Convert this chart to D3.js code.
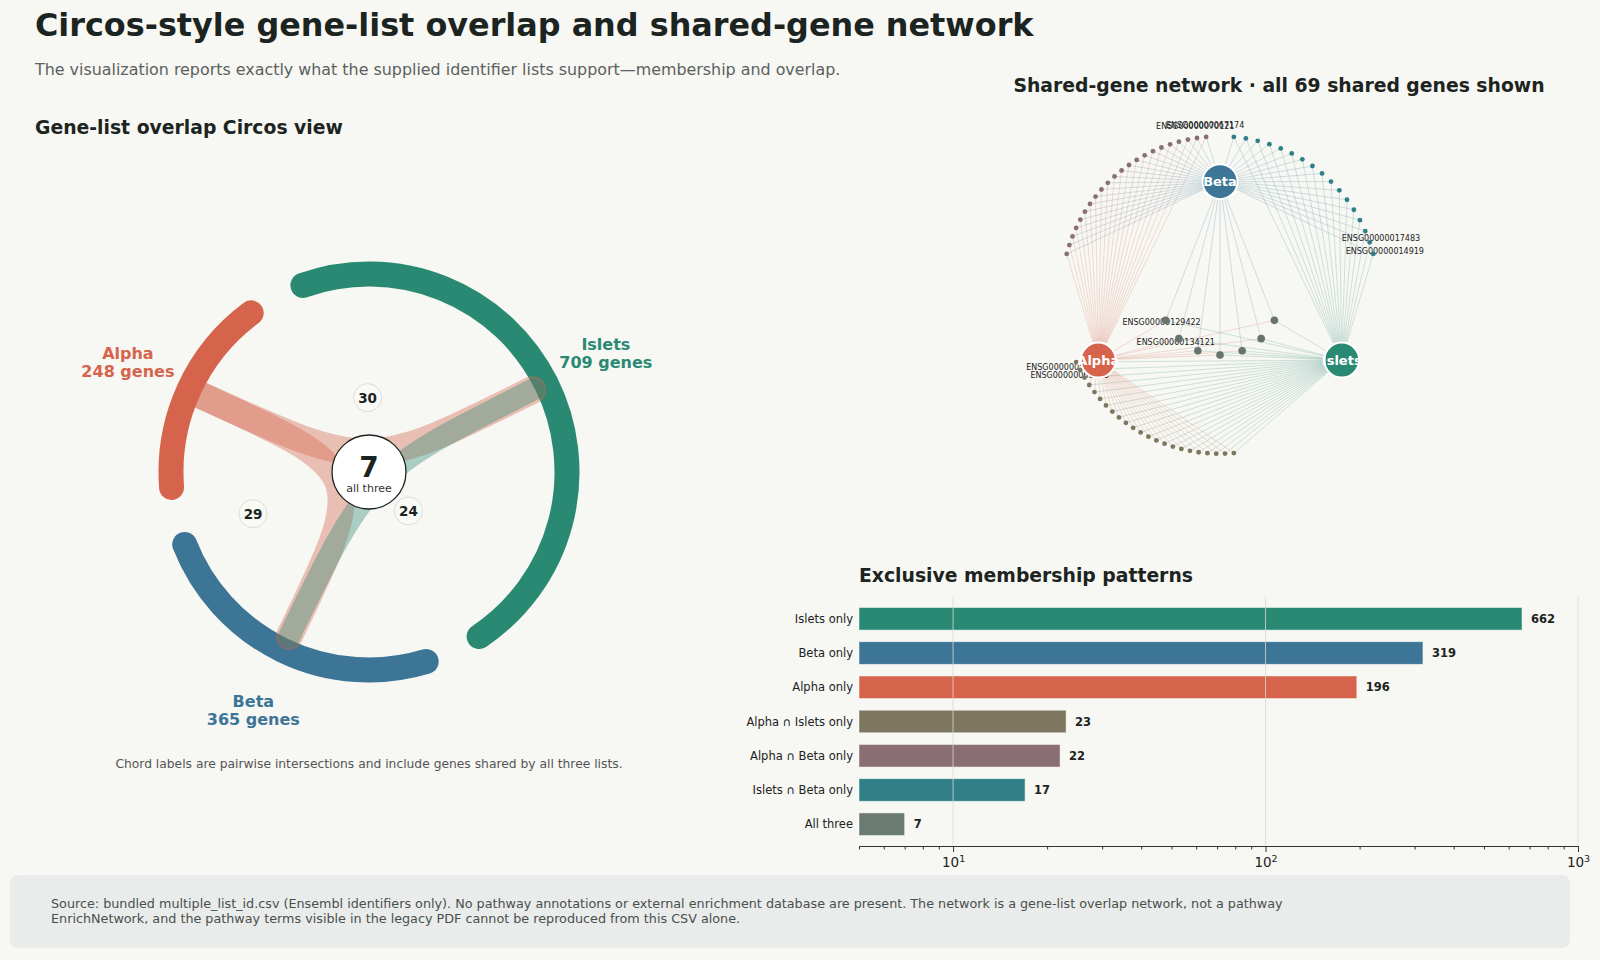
<!DOCTYPE html>
<html>
<head>
<meta charset="utf-8">
<script src="https://cdn.jsdelivr.net/npm/d3@7"></script>
<style>
  html, body { margin: 0; padding: 0; background: #f7f7f3; }
  svg { display: block; font-family: "DejaVu Sans", sans-serif; }
</style>
</head>
<body>
<svg id="chart" width="1600" height="960"></svg>
<script>
// ---- data ----
const listNames = ["Islets", "Beta", "Alpha"];
const listSizes = [709, 365, 248];
const listColors = ["#2a8973", "#3c7596", "#d6644d"];

// pairwise intersections (include the genes shared by all three)
const pairFrom = ["Alpha", "Alpha", "Islets"];
const pairTo = ["Islets", "Beta", "Beta"];
const pairCounts = [30, 29, 24];
const allThreeCount = 7;

// exclusive membership patterns
const patternLabels = [
  "Islets only",
  "Beta only",
  "Alpha only",
  "Alpha ∩ Islets only",
  "Alpha ∩ Beta only",
  "Islets ∩ Beta only",
  "All three",
];
const patternCounts = [662, 319, 196, 23, 22, 17, 7];
const patternColors = ["#2a8973", "#3c7596", "#d6644d", "#7e7760", "#8a6e74", "#318087", "#6b7a72"];

// shared genes drawn in the network
const geneGroups = ["Alpha ∩ Beta", "Islets ∩ Beta", "Alpha ∩ Islets", "All three"];
const geneGroupCounts = [22, 17, 23, 7];
const geneGroupMembers = [["Alpha", "Beta"], ["Islets", "Beta"], ["Alpha", "Islets"], ["Alpha", "Beta", "Islets"]];
const geneGroupColors = ["#8a6e74", "#2f7f88", "#7d765f", "#67736d"];
const labelledGenes = [
  ["ENSG00000067174", "ENSG00000070121"],
  ["ENSG00000014919", "ENSG00000017483"],
  ["ENSG00000051108", "ENSG00000060718"],
  ["ENSG00000129422", "ENSG00000134121"],
];

const colorOf = (name) => listColors[listNames.indexOf(name)];
const svg = d3.select("#chart");
const ink = "#1c2421";

svg.append("rect").attr("width", 1600).attr("height", 960).attr("fill", "#f7f7f3");

// ---- titles ----
svg.append("text").attr("x", 35).attr("y", 36)
  .attr("font-size", 31.85).attr("font-weight", "bold").attr("fill", ink)
  .text("Circos-style gene-list overlap and shared-gene network");
svg.append("text").attr("x", 35).attr("y", 75)
  .attr("font-size", 15.9).attr("fill", "#5b615e")
  .text("The visualization reports exactly what the supplied identifier lists support—membership and overlap.");

renderCircos(svg.append("g"));
renderNetwork(svg.append("g"));
renderBars(svg.append("g"));
renderFooter(svg.append("g"));

function renderCircos(g) {
  const cx = 369, cy = 472, r = 198, gap = 17, start = -19.5;
  const total = d3.sum(listSizes);
  const avail = 360 - gap * listSizes.length;
  const rad = (deg) => (deg * Math.PI) / 180;
  const polar = (rr, deg) => [cx + rr * Math.sin(rad(deg)), cy - rr * Math.cos(rad(deg))];

  g.append("text").attr("x", 35).attr("y", 134)
    .attr("font-size", 18.8).attr("font-weight", "bold").attr("fill", ink)
    .text("Gene-list overlap Circos view");

  let a = start;
  const arcs = listNames.map((name, i) => {
    const span = (listSizes[i] / total) * avail;
    const d = { name, size: listSizes[i], a0: a, a1: a + span, mid: a + span / 2, color: listColors[i] };
    a += span + gap;
    return d;
  });
  const midOf = (name) => arcs.find((d) => d.name === name).mid;

  // list arcs
  g.selectAll(".list-arc")
    .data(arcs)
    .join("path")
    .attr("class", "list-arc")
    .attr("d", (d) => {
      const p = d3.path();
      p.arc(cx, cy, r, rad(d.a0 - 90), rad(d.a1 - 90));
      return p.toString();
    })
    .attr("fill", "none")
    .attr("stroke", (d) => d.color)
    .attr("stroke-width", 25)
    .attr("stroke-linecap", "round");

  // chords, bent through the centre
  const chordData = pairCounts.map((c, i) => ({
    from: pairFrom[i], to: pairTo[i], count: c,
    p0: polar(183, midOf(pairFrom[i])),
    p1: polar(183, midOf(pairTo[i])),
  }));
  g.selectAll(".chord")
    .data(chordData)
    .join("path")
    .attr("class", "chord")
    .attr("d", (d) => `M${d.p0}C${cx},${cy} ${cx},${cy} ${d.p1}`)
    .attr("fill", "none")
    .attr("stroke", (d) => colorOf(d.from))
    .attr("stroke-opacity", 0.38)
    .attr("stroke-width", (d) => d.count * 0.92)
    .attr("stroke-linecap", "round");

  // chord count labels
  const lab = g.selectAll(".chord-label")
    .data(chordData)
    .join("g")
    .attr("class", "chord-label")
    .attr("transform", (d) => {
      const a0 = polar(r, midOf(d.from)), a1 = polar(r, midOf(d.to));
      const mx = cx + ((a0[0] + a1[0]) / 2 - cx) * 0.87;
      const my = cy + ((a0[1] + a1[1]) / 2 - cy) * 0.87;
      return `translate(${mx},${my})`;
    });
  lab.append("circle").attr("r", 14).attr("fill", "#f8f8f5").attr("fill-opacity", 0.92)
    .attr("stroke", "#dcdcd8").attr("stroke-width", 1);
  lab.append("text").attr("text-anchor", "middle").attr("dy", "0.36em")
    .attr("font-size", 13.5).attr("font-weight", "bold").attr("fill", ink)
    .text((d) => d.count);

  // centre
  g.append("circle").attr("cx", cx).attr("cy", cy).attr("r", 37)
    .attr("fill", "#ffffff").attr("stroke", ink).attr("stroke-width", 1.3);
  g.append("text").attr("x", cx).attr("y", cy + 5).attr("text-anchor", "middle")
    .attr("font-size", 28).attr("font-weight", "bold").attr("fill", ink)
    .text(allThreeCount);
  g.append("text").attr("x", cx).attr("y", cy + 20).attr("text-anchor", "middle")
    .attr("font-size", 11).attr("fill", "#333").text("all three");

  // list labels
  const lbl = g.selectAll(".list-label")
    .data(arcs)
    .join("text")
    .attr("class", "list-label")
    .attr("text-anchor", "middle")
    .attr("font-size", 16).attr("font-weight", "bold")
    .attr("fill", (d) => d.color);
  lbl.append("tspan")
    .attr("x", (d) => polar(265, d.mid)[0])
    .attr("y", (d) => polar(265, d.mid)[1] - 3)
    .text((d) => d.name);
  lbl.append("tspan")
    .attr("x", (d) => polar(265, d.mid)[0])
    .attr("y", (d) => polar(265, d.mid)[1] + 15)
    .text((d) => `${d.size} genes`);

  g.append("text").attr("x", cx).attr("y", 768).attr("text-anchor", "middle")
    .attr("font-size", 12.3).attr("fill", "#555")
    .text("Chord labels are pairwise intersections and include genes shared by all three lists.");
}

function renderNetwork(g) {
  const cx = 1220, cy = 295, R = 158.7;
  const x = d3.scaleLinear().domain([-1, 1]).range([cx - R, cx + R]);
  const y = d3.scaleLinear().domain([-1, 1]).range([cy - R, cy + R]);
  // layout: angular spans (degrees) and ring radius per group, hub positions
  const groupSpan = [[-95, -165], [-15, -85], [155, 85], [155, 25]];
  const groupRing = [1, 1, 1, 0.378];
  const hubPos = { Beta: [0, -0.714], Alpha: [-0.767, 0.41], Islets: [0.767, 0.41] };

  g.append("text").attr("x", 1279).attr("y", 92).attr("text-anchor", "middle")
    .attr("font-size", 18.8).attr("font-weight", "bold").attr("fill", ink)
    .text(`Shared-gene network · all ${d3.sum(geneGroupCounts)} shared genes shown`);

  const genes = [];
  geneGroups.forEach((grp, gi) => {
    const n = geneGroupCounts[gi];
    const [s0, s1] = groupSpan[gi];
    d3.range(n).forEach((i) => {
      const ang = ((s0 + ((s1 - s0) * i) / (n - 1)) * Math.PI) / 180;
      const rr = groupRing[gi];
      genes.push({
        group: gi, idx: i,
        px: rr * Math.cos(ang), py: rr * Math.sin(ang),
        lx: rr * 1.075 * Math.cos(ang), ly: rr * 1.075 * Math.sin(ang),
        label: i < 2 ? labelledGenes[gi][i] : null,
        members: geneGroupMembers[gi],
        color: geneGroupColors[gi],
      });
    });
  });

  const edges = genes.flatMap((d) => d.members.map((m) => ({ gene: d, hub: m })));
  g.append("g").selectAll("line")
    .data(edges)
    .join("line")
    .attr("x1", (d) => x(d.gene.px)).attr("y1", (d) => y(d.gene.py))
    .attr("x2", (d) => x(hubPos[d.hub][0])).attr("y2", (d) => y(hubPos[d.hub][1]))
    .attr("stroke", (d) => colorOf(d.hub))
    .attr("stroke-opacity", 0.3)
    .attr("stroke-width", 0.7);

  g.append("g").selectAll("text")
    .data(genes.filter((d) => d.label))
    .join("text")
    .attr("x", (d) => x(d.lx)).attr("y", (d) => y(d.ly))
    .attr("dy", "0.35em").attr("text-anchor", "middle")
    .attr("font-size", 8).attr("fill", "#222")
    .text((d) => d.label);

  g.append("g").selectAll("circle")
    .data(genes)
    .join("circle")
    .attr("cx", (d) => x(d.px)).attr("cy", (d) => y(d.py))
    .attr("r", (d) => (d.group === 3 ? 3.8 : 2.4))
    .attr("fill", (d) => d.color);

  const hubs = g.append("g").selectAll("g")
    .data(listNames)
    .join("g")
    .attr("transform", (d) => `translate(${x(hubPos[d][0])},${y(hubPos[d][1])})`);
  hubs.append("circle").attr("r", 17.5).attr("fill", (d) => colorOf(d))
    .attr("stroke", "#ffffff").attr("stroke-width", 2);
  hubs.append("text").attr("text-anchor", "middle").attr("dy", "0.36em")
    .attr("font-size", 13).attr("font-weight", "bold").attr("fill", "#ffffff")
    .text((d) => d);
}

function renderBars(g) {
  const x = d3.scaleLog().domain([5, 1000]).range([859, 1578]);
  const y = d3.scaleBand().domain(patternLabels).range([602, 841])
    .paddingInner(0.34).paddingOuter(0.16);
  const gridTop = 597, axisY = 846;

  g.append("text").attr("x", 859).attr("y", 582)
    .attr("font-size", 18.8).attr("font-weight", "bold").attr("fill", ink)
    .text("Exclusive membership patterns");

  const rows = patternLabels.map((label, i) => ({ label, count: patternCounts[i], color: patternColors[i] }));

  g.append("g").selectAll("rect")
    .data(rows)
    .join("rect")
    .attr("x", x(5)).attr("y", (d) => y(d.label))
    .attr("width", (d) => x(d.count) - x(5))
    .attr("height", y.bandwidth())
    .attr("fill", (d) => d.color)
    .attr("stroke", "#ffffff").attr("stroke-opacity", 0.6).attr("stroke-width", 0.8);

  // grid over bars
  g.append("g").selectAll("line")
    .data([10, 100, 1000])
    .join("line")
    .attr("x1", (d) => x(d)).attr("x2", (d) => x(d))
    .attr("y1", gridTop).attr("y2", axisY)
    .attr("stroke", "#d8d8d4").attr("stroke-opacity", 0.8).attr("stroke-width", 1);

  g.append("g").selectAll("text")
    .data(rows)
    .join("text")
    .attr("x", 853).attr("y", (d) => y(d.label) + y.bandwidth() / 2)
    .attr("dy", "0.35em").attr("text-anchor", "end")
    .attr("font-size", 11.5).attr("fill", "#222")
    .text((d) => d.label);

  g.append("g").selectAll("text")
    .data(rows)
    .join("text")
    .attr("x", (d) => x(d.count) + 9).attr("y", (d) => y(d.label) + y.bandwidth() / 2)
    .attr("dy", "0.35em")
    .attr("font-size", 11.5).attr("font-weight", "bold").attr("fill", ink)
    .text((d) => d.count);

  const majors = [10, 100, 1000];
  const tickVals = [5, 6, 7, 8, 9, 10, 20, 30, 40, 50, 60, 70, 80, 90, 100,
    200, 300, 400, 500, 600, 700, 800, 900, 1000];
  const gx = g.append("g")
    .attr("transform", `translate(0,${axisY})`)
    .call(d3.axisBottom(x).tickValues(tickVals).tickFormat(() => "").tickSizeOuter(0));
  gx.select(".domain").attr("stroke", "#333").attr("stroke-width", 1.2);
  gx.selectAll(".tick line")
    .attr("stroke", "#333")
    .attr("y2", (d) => (majors.includes(d) ? 6 : 3.5));
  gx.selectAll(".tick text")
    .filter((d) => majors.includes(d))
    .attr("y", 11)
    .attr("font-size", 13.5)
    .attr("font-family", "DejaVu Sans")
    .attr("fill", "#222")
    .call((t) => {
      t.text("10");
      t.append("tspan").attr("dy", "-0.5em").attr("font-size", 9.5)
        .text((d) => Math.round(Math.log10(d)));
    });
}

function renderFooter(g) {
  g.append("rect").attr("x", 10).attr("y", 875).attr("width", 1560).attr("height", 73)
    .attr("rx", 8).attr("fill", "#e9ecea");
  const lines = [
    "Source: bundled multiple_list_id.csv (Ensembl identifiers only). No pathway annotations or external enrichment database are present. The network is a gene-list overlap network, not a pathway",
    "EnrichNetwork, and the pathway terms visible in the legacy PDF cannot be reproduced from this CSV alone.",
  ];
  g.selectAll(".foot")
    .data(lines)
    .join("text")
    .attr("class", "foot")
    .attr("x", 51).attr("y", (d, i) => 908 + i * 15)
    .attr("font-size", 12.75).attr("fill", "#4a4f4d")
    .text((d) => d);
}
</script>
</body>
</html>
